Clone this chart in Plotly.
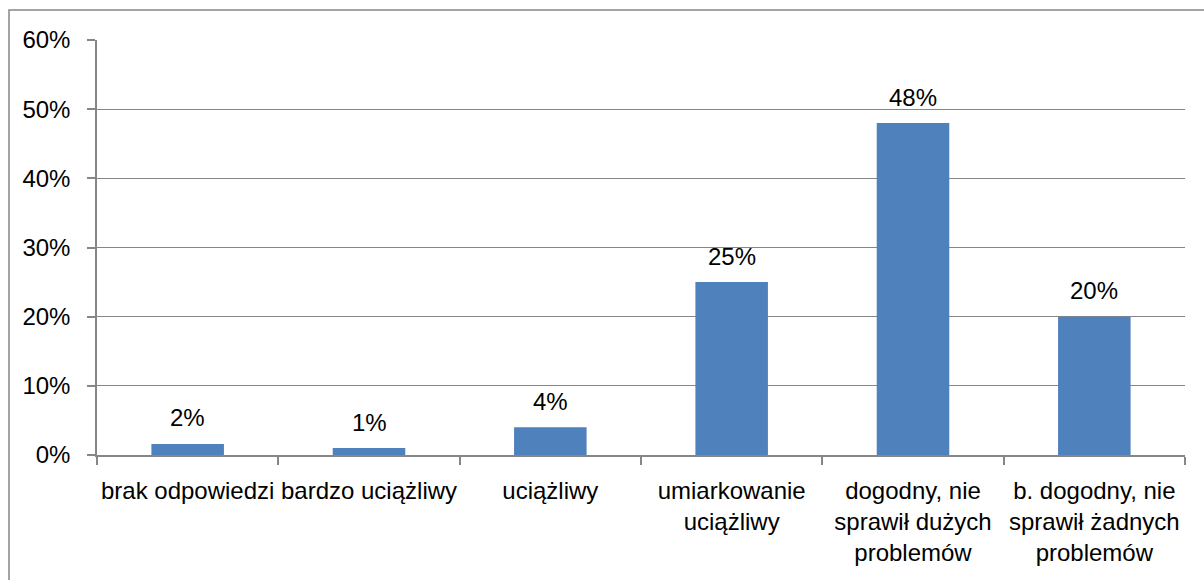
import plotly.graph_objects as go

categories = ["brak odpowiedzi", "bardzo uciążliwy", "uciążliwy",
              "umiarkowanie uciążliwy", "dogodny, nie sprawił dużych problemów",
              "b. dogodny, nie sprawił żadnych problemów"]
tick_labels = ["brak odpowiedzi", "bardzo uciążliwy", "uciążliwy",
               "umiarkowanie<br>uciążliwy", "dogodny, nie<br>sprawił dużych<br>problemów",
               "b. dogodny, nie<br>sprawił żadnych<br>problemów"]
values = [1.6, 1.0, 4.0, 25.0, 48.0, 20.0]
value_labels = ["2%", "1%", "4%", "25%", "48%", "20%"]
y_ticks = [0, 10, 20, 30, 40, 50, 60]
y_tick_labels = ["0%", "10%", "20%", "30%", "40%", "50%", "60%"]

FONT = "Liberation Sans"
GRAY = "#868686"

fig = go.Figure()
fig.add_trace(go.Bar(x=categories, y=values, width=0.4,
                     marker=dict(color="#4F81BD", line=dict(width=0)),
                     hoverinfo="skip"))

for c, v, t in zip(categories, values, value_labels):
    fig.add_annotation(x=c, y=v, text=t, showarrow=False, yanchor="middle",
                       yshift=26, font=dict(family=FONT, size=24, color="#000000"))

L, R, T, B = 97, 19, 40, 125
W, H = 1204, 580
pw, ph = W - L - R, H - T - B
fig.add_shape(type="rect", xref="paper", yref="paper",
              x0=(9 - L) / pw, x1=1.2, y0=-0.6, y1=(H - B - 10) / ph,
              line=dict(color=GRAY, width=1.5), fillcolor="rgba(0,0,0,0)", layer="below")

fig.update_layout(
    width=W, height=H,
    margin=dict(l=L, r=R, t=T, b=B, pad=0),
    paper_bgcolor="white", plot_bgcolor="white",
    showlegend=False, bargap=0.6,
    font=dict(family=FONT, size=24, color="#000000"),
)
fig.update_xaxes(
    type="category", categoryorder="array", categoryarray=categories,
    tickmode="array", tickvals=categories, ticktext=tick_labels,
    tickangle=0, showline=True, linecolor=GRAY, linewidth=1.5,
    ticks="outside", tickson="boundaries", ticklen=8, tickcolor=GRAY, tickwidth=1.5,
    showgrid=False, ticklabelstandoff=13,
    tickfont=dict(family=FONT, size=24, color="#000000"),
)
fig.update_yaxes(
    range=[0, 60], tickmode="array", tickvals=y_ticks, ticktext=y_tick_labels,
    showline=True, linecolor=GRAY, linewidth=1.5,
    ticks="outside", ticklen=8, tickcolor=GRAY, tickwidth=1.5,
    showgrid=True, gridcolor=GRAY, gridwidth=1.2, zeroline=False,
    ticklabelstandoff=12,
    tickfont=dict(family=FONT, size=24, color="#000000"),
)

fig.write_html("out.html")
